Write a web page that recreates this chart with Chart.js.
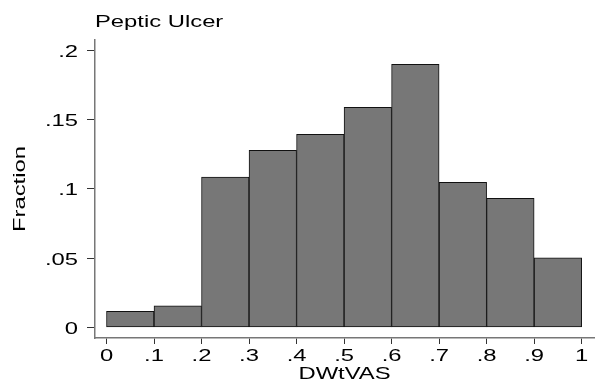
<!DOCTYPE html>
<html lang="en">
<head>
  <meta charset="UTF-8" />
  <title>Peptic Ulcer</title>
  <script src="https://cdn.jsdelivr.net/npm/chart.js"></script>
  <style>
    body {
      margin: 0;
      background: #fff;
    }
    canvas {
      display: block;
    }
  </style>
</head>
<body>
  <canvas id="hist" width="595" height="385"></canvas>

  <script>
    // histogram bins (edges) and the fraction in each bin
    const binEdges = [0, 0.1, 0.2, 0.3, 0.4, 0.5, 0.6, 0.7, 0.8, 0.9, 1];
    const fractions = [0.0115, 0.0156, 0.1084, 0.1277, 0.1392, 0.1587, 0.1897, 0.1046, 0.0931, 0.0502];

    const xTicks = [0, 0.1, 0.2, 0.3, 0.4, 0.5, 0.6, 0.7, 0.8, 0.9, 1];
    const xTickLabels = ['0', '.1', '.2', '.3', '.4', '.5', '.6', '.7', '.8', '.9', '1'];
    const yTicks = [0, 0.05, 0.1, 0.15, 0.2];
    const yTickLabels = ['0', '.05', '.1', '.15', '.2'];

    const FONT = { family: '"Liberation Sans", Arial, sans-serif', size: 17, weight: 'normal' };
    const TEXT_STRETCH = 1.4;   // wide lettering

    const canvas = document.getElementById('hist');
    const ctx = canvas.getContext('2d');

    // widen every label along its own baseline, anchored at the draw point
    const plainFill = ctx.fillText.bind(ctx);
    ctx.fillText = function (text, x, y) {
      this.save();
      this.translate(x, y);
      this.scale(TEXT_STRETCH, 1);
      plainFill(text, 0, 0);
      this.restore();
    };

    const points = fractions.map((f, i) => ({
      x: (binEdges[i] + binEdges[i + 1]) / 2,
      y: f
    }));

    new Chart(ctx, {
      type: 'bar',
      data: {
        datasets: [{
          data: points,
          backgroundColor: '#777777',
          borderColor: '#111111',
          borderWidth: 1,
          borderSkipped: false,
          barPercentage: 1,
          categoryPercentage: 1
        }]
      },
      options: {
        responsive: false,
        animation: false,
        devicePixelRatio: 1,
        layout: { padding: { left: 0, right: 1, top: 0, bottom: 0 } },
        plugins: {
          legend: { display: false },
          tooltip: { enabled: false },
          title: {
            display: true,
            text: 'Peptic Ulcer',
            align: 'start',
            fullSize: false,
            color: '#000',
            font: FONT,
            padding: { top: 12, bottom: 7.6 }
          }
        },
        scales: {
          x: {
            type: 'linear',
            min: -0.0242,
            max: 1.026,
            offset: false,
            afterBuildTicks: s => { s.ticks = xTicks.map(v => ({ value: v })); },
            afterFit: s => { s.height = 47; },
            grid: {
              display: true,
              offset: false,
              drawOnChartArea: false,
              drawTicks: true,
              tickLength: 6,
              tickColor: '#333'
            },
            border: { color: '#777', width: 1.5 },
            ticks: {
              autoSkip: false,
              maxRotation: 0,
              padding: 2,
              color: '#000',
              font: FONT,
              callback: (v, i) => xTickLabels[i]
            },
            title: {
              display: true,
              text: 'DWtVAS',
              color: '#000',
              font: FONT,
              padding: { top: 2, bottom: 0 }
            }
          },
          y: {
            type: 'linear',
            min: -0.0077,
            max: 0.2073,
            afterBuildTicks: s => { s.ticks = yTicks.map(v => ({ value: v })); },
            afterFit: s => { s.width = 95; },
            grid: {
              display: true,
              drawOnChartArea: false,
              drawTicks: true,
              tickLength: 8,
              tickColor: '#333'
            },
            border: { color: '#777', width: 1.5 },
            ticks: {
              padding: 9,
              labelOffset: 2,
              color: '#000',
              font: FONT,
              callback: (v, i) => yTickLabels[i]
            },
            title: {
              display: true,
              text: 'Fraction',
              color: '#000',
              font: FONT,
              padding: { top: 10, bottom: 0 }
            }
          }
        }
      }
    });
  </script>
</body>
</html>
